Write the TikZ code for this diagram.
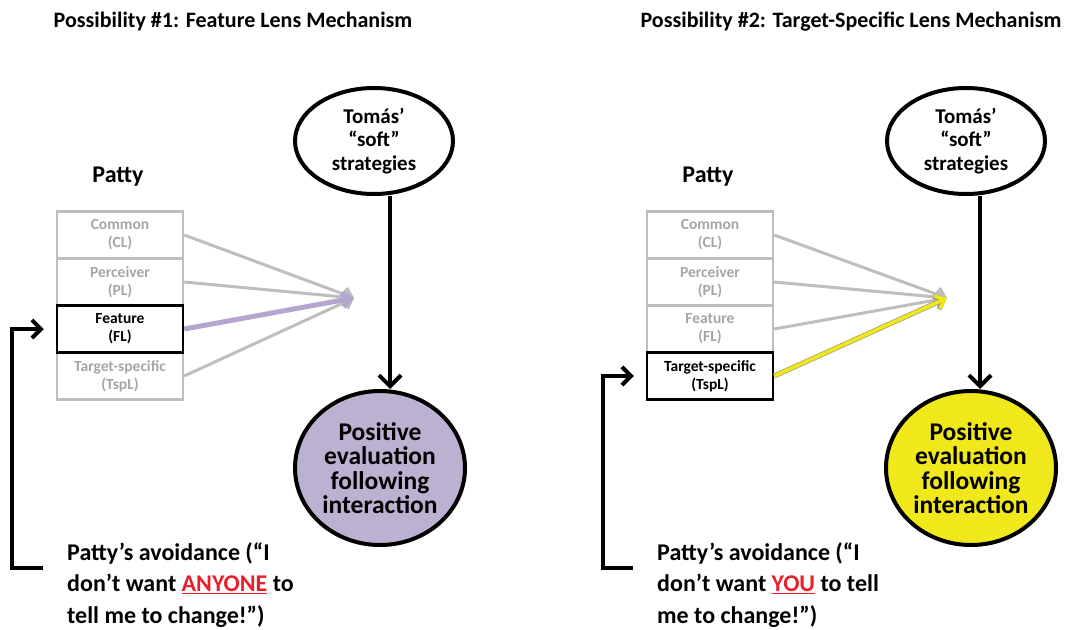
\documentclass[tikz,border=0pt]{standalone}
\usepackage{fontspec}
\setmainfont{Carlito}
\usepackage{xcolor}
\usetikzlibrary{arrows.meta, positioning, calc, shapes.geometric}

\definecolor{lensgray}{RGB}{190,190,190}
\definecolor{lenstext}{RGB}{165,165,165}
\definecolor{lenspurple}{RGB}{181,166,208}
\definecolor{evalpurple}{RGB}{189,177,210}
\definecolor{lensyellow}{RGB}{240,232,26}
\definecolor{yellowedge}{RGB}{160,160,120}
\definecolor{avoidred}{RGB}{232,32,42}

\begin{document}
\begin{tikzpicture}[x=1pt, y=-1pt,
    title/.style={font=\bfseries\fontsize{22}{26}\selectfont, inner sep=0pt},
    patty/.style={font=\bfseries\fontsize{24}{28}\selectfont, inner sep=0pt},
    lens/.style={draw=lensgray, line width=2.5pt, minimum width=126, minimum height=47,
        inner sep=0pt, align=center, text=lenstext, font=\bfseries\fontsize{15.5}{18}\selectfont},
    lenson/.style={lens, draw=black, text=black},
    bubble/.style={ellipse, draw=black, line width=4pt, inner sep=0pt, align=center,
        font=\bfseries\fontsize{21}{23.5}\selectfont},
    evaltext/.style={font=\bfseries\fontsize{25.5}{24.5}\selectfont},
    lensarrow/.style={-{Straight Barb[length=8,width=14]}, draw=lensgray, line width=3pt},
    mainarrow/.style={-{Straight Barb[length=11,width=22]}, draw=black, line width=4pt},
    feedback/.style={-{Straight Barb[length=9,width=18]}, draw=black, line width=4pt},
    avoid/.style={align=left, inner sep=3pt, font=\bfseries\fontsize{24}{31.5}\selectfont}]

      \useasboundingbox (0, 0) rectangle (1081, 629);

      % POSSIBILITY 1
      \node[title] (title1) at (233, 22) {Possibility \#1: Feature Lens Mechanism};
      \node[patty] (patty1) at (118, 177) {Patty};

      % lenses
      \node[lens] (common1) at (120, 235) {Common\\(CL)};
      \node[lens] (perceiver1) at (120, 282) {Perceiver\\(PL)};
      \node[lens] (tspl1) at (120, 376) {Target-specific\\(TspL)};
      \node[lenson] (feature1) at (120, 329) {Feature\\(FL)};
      \coordinate (hub1) at (354, 298);

      \draw[lensarrow] (common1.east) -- (hub1);
      \draw[lensarrow] (perceiver1.east) -- (hub1);
      \draw[lensarrow] (tspl1.east) -- (hub1);
      \draw[lensarrow, draw=lenspurple, line width=5pt] (feature1.east) -- (hub1);

      % Tomas -> evaluation
      \node[bubble, minimum width=158, minimum height=106] (tomas1) at (374, 141) {Tomás’\\“soft”\\strategies};
      \node[bubble, evaltext, fill=evalpurple, minimum width=170, minimum height=154] (eval1) at (380, 468) {Positive\\evaluation\\following\\interaction};
      \draw[mainarrow] ([xshift=16]tomas1.south) -- ([xshift=16]tomas1.south |- eval1.north);

      % avoidance loop
      \node[avoid, anchor=west] (avoid1) at (64, 585) {Patty’s avoidance (“I\\don’t want \textcolor{avoidred}{\underline{ANYONE}} to\\tell me to change!”)};
      \coordinate (loop1) at (12, 568);
      \draw[feedback] ([xshift=-21, yshift=17]avoid1.west) -- (loop1) |- ([xshift=-12]feature1.west);

      % POSSIBILITY 2
      \node[title] (title2) at (851, 22) {Possibility \#2: Target-Specific Lens Mechanism};
      \node[patty] (patty2) at (708, 177) {Patty};

      % lenses
      \node[lens] (common2) at (710, 235) {Common\\(CL)};
      \node[lens] (perceiver2) at (710, 282) {Perceiver\\(PL)};
      \node[lens] (feature2) at (710, 329) {Feature\\(FL)};
      \node[lenson] (tspl2) at (710, 376) {Target-specific\\(TspL)};
      \coordinate (hub2) at (947, 298);

      \draw[lensarrow] (common2.east) -- (hub2);
      \draw[lensarrow] (perceiver2.east) -- (hub2);
      \draw[lensarrow] (feature2.east) -- (hub2);
      \draw[lensarrow, draw=lensyellow, line width=3.5pt, preaction={draw=yellowedge, line width=5pt}] (tspl2.east) -- (hub2);

      % Tomas -> evaluation
      \node[bubble, minimum width=158, minimum height=106] (tomas2) at (966, 141) {Tomás’\\“soft”\\strategies};
      \node[bubble, evaltext, fill=lensyellow, minimum width=170, minimum height=154] (eval2) at (971, 468) {Positive\\evaluation\\following\\interaction};
      \draw[mainarrow] ([xshift=14]tomas2.south) -- ([xshift=14]tomas2.south |- eval2.north);

      % avoidance loop
      \node[avoid, anchor=west] (avoid2) at (654, 585) {Patty’s avoidance (“I\\don’t want \textcolor{avoidred}{\underline{YOU}} to tell\\me to change!”)};
      \coordinate (loop2) at (603, 568);
      \draw[feedback] ([xshift=-21, yshift=17]avoid2.west) -- (loop2) |- ([xshift=-12]tspl2.west);
\end{tikzpicture}
\end{document}
